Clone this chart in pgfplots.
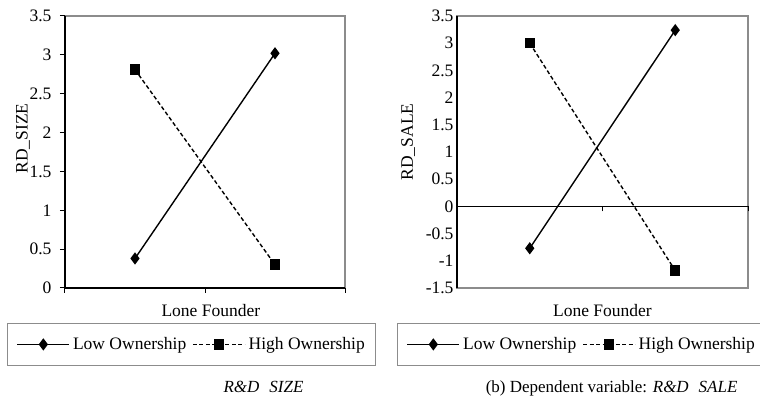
\documentclass[border=0pt]{standalone}
\usepackage{fontspec}
\setmainfont{Liberation Serif}
\usepackage{pgfplots}
\pgfplotsset{compat=1.18}
\definecolor{framegray}{RGB}{140,140,140}
\newcommand\fs{\fontsize{17.5}{21}\selectfont}
\begin{document}
\begin{tikzpicture}[x=1pt,y=1pt]
\path[use as bounding box] (0,0) rectangle (760,-401);
\pgfplotsset{
  common/.style={
    scale only axis, height=272pt,
    xmin=0, xmax=2, xtick={0,1,2}, xticklabels={},
    /pgf/number format/assume math mode=true,
    tick label style={font=\fs},
    label style={font=\fs},
    ytick distance=0.5,
    axis background/.style={draw=framegray, line width=1.2pt},
    axis line style={black, line width=1.1pt},
    tick style={black, line width=1pt},
    major tick length=5pt,
    legend columns=2,
    legend style={font=\fs, draw=framegray, line width=1.2pt, inner xsep=9pt, inner ysep=12pt, anchor=north west,
      /tikz/every odd column/.append style={column sep=1pt},
      /tikz/every even column/.append style={column sep=4pt}},
    legend image code/.code={\draw[mark repeat=2,mark phase=2,##1] plot coordinates {(0pt,0pt) (26pt,0pt) (52pt,0pt)};},
    yticklabel style={/pgf/number format/fixed},
  },
  low/.style={black, line width=1.4pt, mark=diamond*, mark size=5pt, mark options={solid}},
  high/.style={black, line width=1.4pt, dash pattern=on 4pt off 2.5pt, mark=square*, mark size=4.5pt, mark options={solid}},
}
\begin{axis}[common, at={(65pt,-16pt)}, anchor=north west, width=280pt,
  ymin=0, ymax=3.5,
  axis x line*=bottom, axis y line*=left, tick align=outside,
  yticklabel style={xshift=-5pt},
  ylabel={RD\_SIZE}, ylabel style={at={(axis description cs:-0.15,0.55)}, anchor=center},
  xlabel={Lone Founder}, xlabel style={at={(axis description cs:0.521,-0.081)}, anchor=center},
  legend style={at={(axis description cs:-0.207,-0.1287)}}]
\addplot[low] coordinates {(0.5,0.38) (1.5,3.02)};
\addlegendentry{Low Ownership}
\addplot[high] coordinates {(0.5,2.81) (1.5,0.30)};
\addlegendentry{High Ownership}
\end{axis}
\begin{axis}[common, at={(457pt,-16pt)}, anchor=north west, width=291pt,
  ymin=-1.5, ymax=3.5,
  axis x line*=middle, axis y line*=left, xtick align=outside, ytick style={draw=none},
  ylabel={RD\_SALE}, ylabel style={at={(axis description cs:-0.168,0.537)}, anchor=center},
  xlabel={Lone Founder}, xlabel style={at={(axis description cs:0.5,-0.081)}, anchor=center},
  legend style={at={(axis description cs:-0.206,-0.1287)}}]
\addplot[low] coordinates {(0.5,-0.77) (1.5,3.24)};
\addlegendentry{Low Ownership}
\addplot[high] coordinates {(0.5,3.0) (1.5,-1.18)};
\addlegendentry{High Ownership}
\end{axis}
\node[anchor=base east, font=\fontsize{17}{20}\selectfont\itshape] at (307,-392) {R\&D\hspace{10pt}SIZE};
\node[anchor=base east, font=\fontsize{17}{20}\selectfont] at (741,-392) {(b) Dependent variable: \textit{R\&D\hspace{10pt}SALE}};
\end{tikzpicture}
\end{document}
